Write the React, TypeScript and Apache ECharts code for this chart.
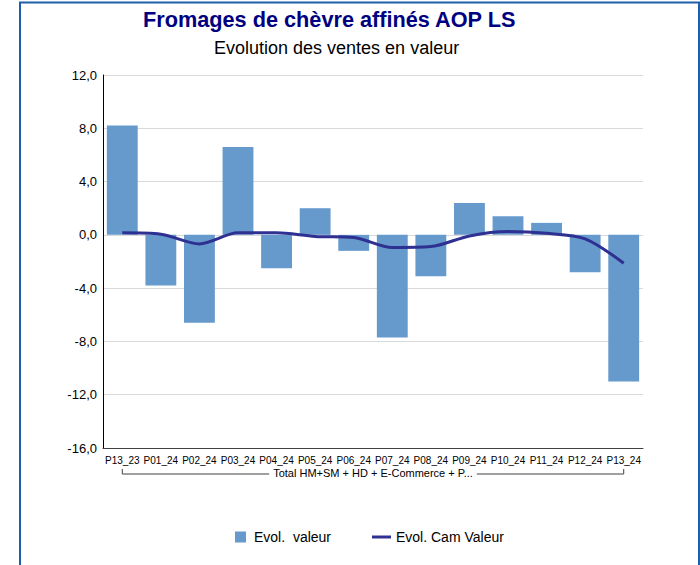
import React, { useEffect, useRef } from "react";
import * as echarts from "echarts";

const categories = [
  "P13_23", "P01_24", "P02_24", "P03_24", "P04_24", "P05_24", "P06_24",
  "P07_24", "P08_24", "P09_24", "P10_24", "P11_24", "P12_24", "P13_24",
];
const evolValeur = [8.2, -3.8, -6.6, 6.6, -2.5, 2.0, -1.2, -7.7, -3.1, 2.4, 1.4, 0.9, -2.8, -11.0];
const evolCamValeur = [0.15, 0.05, -0.68, 0.15, 0.15, -0.12, -0.2, -0.95, -0.88, -0.08, 0.25, 0.12, -0.3, -2.13];
const groupLabel = "Total HM+SM + HD + E-Commerce + P...";
const titleText = "Fromages de chèvre affinés AOP LS";
const subtitleText = "Evolution des ventes en valeur";
const barName = "Evol.  valeur";
const lineName = "Evol. Cam Valeur";

const FONT = "'Liberation Sans', Arial, sans-serif";

export default function App() {
  const ref = useRef<HTMLDivElement>(null);
  useEffect(() => {
    if (!ref.current) return;
    const chart = echarts.init(ref.current, undefined, { renderer: "svg" });
    const gridBottomY = 448;
    chart.setOption({
      animation: false,
      backgroundColor: "#ffffff",
      title: [
        {
          text: titleText,
          left: 143,
          top: 8,
          padding: 0,
          textStyle: { fontFamily: FONT, fontSize: 21.7, fontWeight: "bold", color: "#000080" },
        },
        {
          text: subtitleText,
          left: 214,
          top: 39,
          padding: 0,
          textStyle: { fontFamily: FONT, fontSize: 18, fontWeight: "normal", color: "#000000" },
        },
      ],
      legend: [
        {
          data: [barName],
          left: 235,
          top: 530,
          padding: 0,
          itemWidth: 11,
          itemHeight: 11,
          icon: "rect",
          textStyle: { fontFamily: FONT, fontSize: 14, color: "#000", padding: [0, 0, 0, 3] },
        },
        {
          data: [lineName],
          left: 372,
          top: 530,
          padding: 0,
          itemWidth: 19,
          itemHeight: 3,
          icon: "rect",
          textStyle: { fontFamily: FONT, fontSize: 14, color: "#000" },
        },
      ],
      grid: { left: 103, right: 57, top: 75, bottom: 565 - gridBottomY },
      xAxis: {
        type: "category",
        data: categories,
        axisLine: { onZero: false, lineStyle: { color: "#404040", width: 1 } },
        axisTick: { show: false },
        axisLabel: { interval: 0, margin: 7, fontFamily: FONT, fontSize: 10, color: "#000" },
      },
      yAxis: {
        type: "value",
        min: -16,
        max: 12,
        interval: 4,
        axisLine: { show: true, lineStyle: { color: "#000", width: 1 } },
        axisTick: { show: false },
        axisLabel: {
          margin: 6,
          fontFamily: FONT,
          fontSize: 13,
          color: "#000",
          formatter: (v: number) => v.toFixed(1).replace(".", ","),
        },
        splitLine: { lineStyle: { color: "#D9D9D9", width: 1 } },
      },
      series: [
        {
          name: barName,
          type: "bar",
          data: evolValeur,
          barCategoryGap: "20%",
          itemStyle: { color: "#6699CC" },
        },
        {
          name: lineName,
          type: "line",
          data: evolCamValeur,
          smooth: 0.3,
          showSymbol: false,
          symbol: "none",
          lineStyle: { color: "#2E3192", width: 3 },
          itemStyle: { color: "#2E3192" },
        },
      ],
    });

    const x0 = chart.convertToPixel({ xAxisIndex: 0 }, categories[0]) as number;
    const x1 = chart.convertToPixel({ xAxisIndex: 0 }, categories[categories.length - 1]) as number;
    const by = gridBottomY + 26;
    chart.setOption({
      graphic: [
        {
          type: "rect",
          shape: { x: 20, y: 2.5, width: 679, height: 620 },
          style: { fill: "none", stroke: "#1F5FAA", lineWidth: 2 },
          silent: true,
        },
        {
          type: "polyline",
          shape: { points: [[x0, by - 5], [x0, by], [x1, by], [x1, by - 5]] },
          style: { fill: "none", stroke: "#404040", lineWidth: 1 },
          silent: true,
        },
        {
          type: "text",
          x: (x0 + x1) / 2,
          y: by - 1,
          style: {
            text: groupLabel,
            fontFamily: FONT,
            fontSize: 11,
            fill: "#000",
            align: "center",
            verticalAlign: "middle",
            backgroundColor: "#ffffff",
            padding: [0, 4],
          },
          silent: true,
        },
      ],
    });
    return () => chart.dispose();
  }, []);
  return (
    <div style={{ position: "fixed", left: 0, top: 0, width: 700, height: 565, background: "#fff" }}>
      <div ref={ref} style={{ width: 700, height: 565 }} />
    </div>
  );
}
